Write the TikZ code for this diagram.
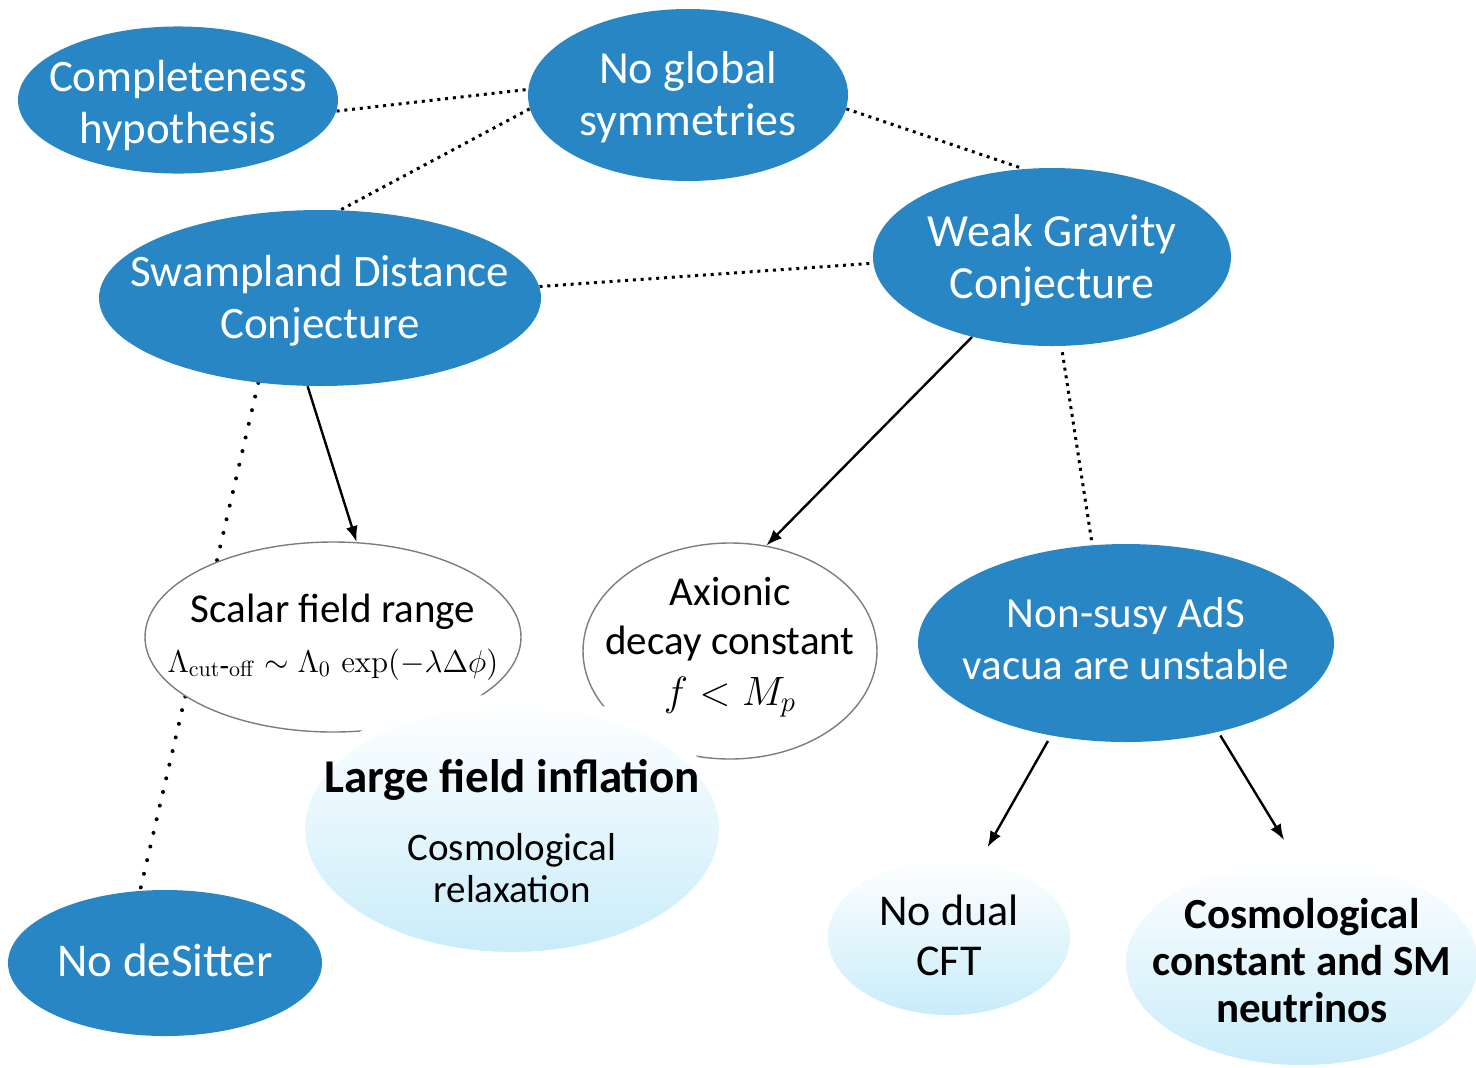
\documentclass[tikz,border=0pt]{standalone}
\usepackage{fix-cm}
\usepackage{amsmath}
\usepackage[no-math]{fontspec}
\setmainfont{Carlito}
\usetikzlibrary{shapes.geometric,arrows.meta,backgrounds}

\definecolor{swampblue}{RGB}{41,134,196}
\definecolor{paleblue}{RGB}{200,236,249}
\definecolor{midblue}{RGB}{226,245,252}
\definecolor{rimgray}{RGB}{125,125,125}
\newcommand{\ctext}[2][0pt]{\makebox[0pt]{\raisebox{#1}[\height][\depth]{\begin{tabular}{@{}c@{}}#2\end{tabular}}}}
\newcommand{\conjfont}{\fontsize{22.5}{26}\selectfont}

\tikzset{
  conj/.style={ellipse, fill=swampblue, text=white, inner sep=0pt, font=\conjfont},
  obs/.style={ellipse, fill=white, draw=rimgray, line width=0.7pt, inner sep=0pt},
  pheno/.style={ellipse, top color=white, middle color=midblue, bottom color=paleblue, inner sep=0pt},
  link/.style={line width=1.5pt, dash pattern=on 1.5pt off 2.4pt, black},
  sparse/.style={line width=2pt, dash pattern=on 0pt off 7pt, line cap=round, black},
  imply/.style={-{Latex[length=8pt,width=6pt]}, line width=1.2pt}
}

\begin{document}
\begin{tikzpicture}[x=0.5pt,y=0.5pt]
\useasboundingbox (0,0) rectangle (1476,-1067);

\node[conj, minimum width=160pt, minimum height=69pt] (complete) at (178,-100) {\ctext[-3.5pt]{Completeness\\hypothesis}};
\node[conj, minimum width=160pt, minimum height=86pt, font=\fontsize{23}{26}\selectfont] (noglobal) at (688,-95) {\ctext[-2pt]{No global\\symmetries}};
\node[conj, minimum width=179pt, minimum height=89pt, font=\fontsize{23}{26}\selectfont] (wgc) at (1052,-257) {\ctext[-2.5pt]{Weak Gravity\\Conjecture}};
\node[conj, minimum width=221pt, minimum height=88pt] (sdc) at (320,-298) {\ctext[-2pt]{Swampland Distance\\Conjecture}};
\node[conj, minimum width=208pt, minimum height=99pt, font=\fontsize{21.5}{26}\selectfont] (nonsusy) at (1126,-643) {\ctext{Non-susy AdS\\vacua are unstable}};
\node[conj, minimum width=157pt, minimum height=73pt, font=\fontsize{23.5}{26}\selectfont] (nods) at (165,-963) {\ctext[-1.5pt]{No deSitter}};

\node[obs, minimum width=188pt, minimum height=95pt, font=\fontsize{20.5}{25}\selectfont] (scalar) at (333,-637)
  {\ctext{Scalar field range\\{\fontsize{15.7}{18}\selectfont $\Lambda_{\mathrm{cut\mbox{-}off}}\sim\Lambda_0\,\exp(-\lambda\Delta\phi)$}}};
\node[obs, minimum width=147pt, minimum height=108pt, font=\fontsize{20.5}{24.5}\selectfont] (axion) at (730,-651)
  {\ctext[2.5pt]{Axionic\\decay constant\\[1pt]$f<M_p$}};

\node[pheno, draw=white, line width=6pt, minimum width=213pt, minimum height=129pt, font=\fontsize{19.5}{21}\selectfont] (largefield) at (512,-829)
  {\ctext[-4pt]{{\fontsize{23.5}{25}\selectfont\bfseries Large field inflation}\\[13pt]Cosmological\\relaxation}};
\node[pheno, minimum width=121pt, minimum height=78pt, font=\fontsize{22}{25}\selectfont] (nodual) at (949,-937) {\ctext[-1.5pt]{No dual\\CFT}};
\node[pheno, minimum width=176pt, minimum height=102pt, font=\fontsize{21.5}{23.5}\selectfont\bfseries] (cosmo) at (1302,-963)
  {\ctext[-1.5pt]{Cosmological\\constant and SM\\neutrinos}};

\begin{pgfonlayer}{background}
\draw[link] (complete.-4) -- (noglobal.178);
\draw[link] (noglobal.185) -- (sdc.77);
\draw[link] (noglobal.-5) -- (wgc.108);
\draw[link] (sdc.3) -- (wgc.182);
\draw[link, shorten <=3pt] (wgc.-84) -- (nonsusy.109);
\draw[sparse] (sdc.234) -- (nods.109);
\end{pgfonlayer}

\draw[imply] (sdc.262) -- (scalar.76);
\draw[imply] (wgc.225) -- (axion.71);
\draw[imply, shorten <=3pt, shorten >=8pt] (nonsusy.231) -- (nodual.68);
\draw[imply, shorten <=2pt, shorten >=12pt] (nonsusy.-44) -- (cosmo.93);
\end{tikzpicture}
\end{document}
